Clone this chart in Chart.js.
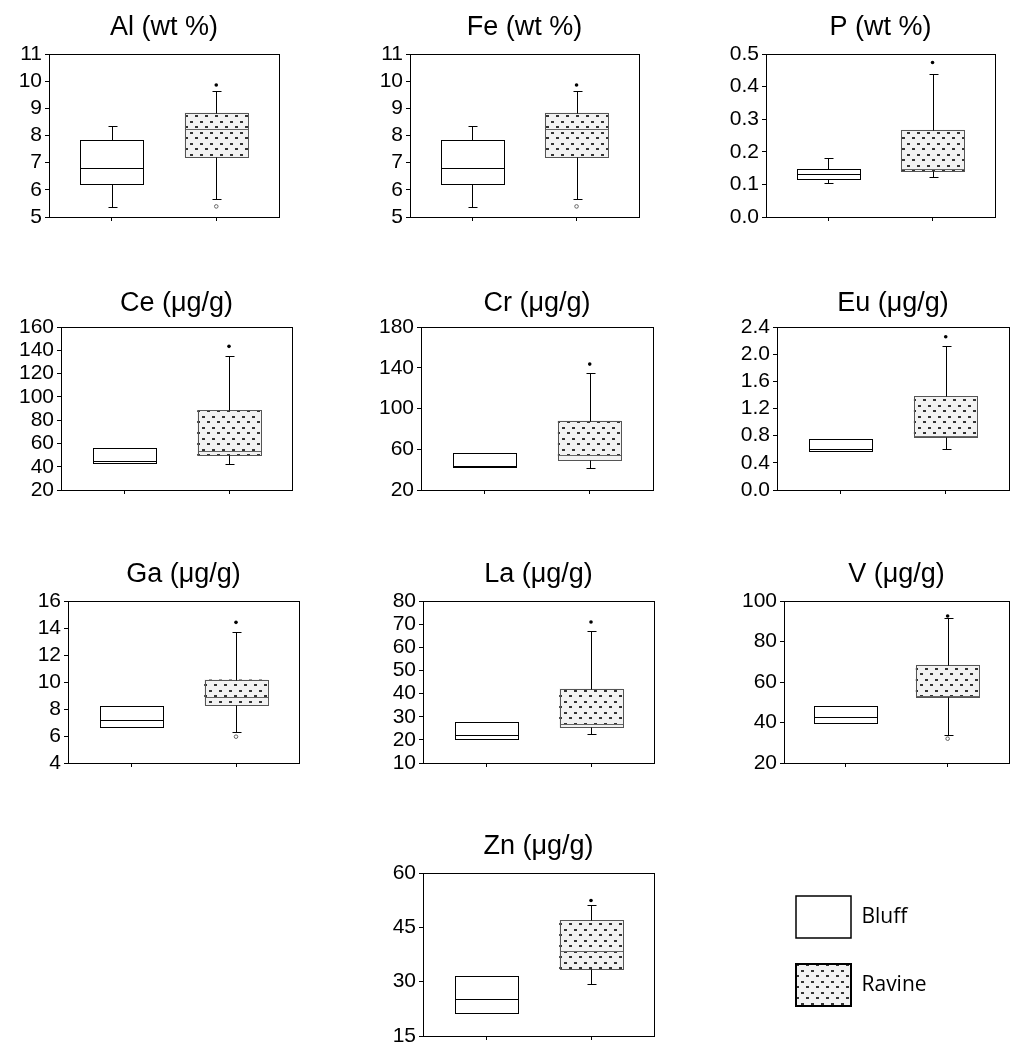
<!DOCTYPE html>
<html>
<head>
<meta charset="utf-8">
<script src="https://cdn.jsdelivr.net/npm/chart.js@4.4.1/dist/chart.umd.min.js"></script>
<style>
  html, body { margin: 0; padding: 0; background: #fff; }
  #page { position: relative; width: 1018px; height: 1051px; overflow: hidden; }
  .panel { position: absolute; }
</style>
</head>
<body>
<div id="page"></div>
<script>
// Element panels, Bluff vs Ravine
const titles = ['Al (wt %)', 'Fe (wt %)', 'P (wt %)', 'Ce (μg/g)', 'Cr (μg/g)', 'Eu (μg/g)', 'Ga (μg/g)', 'La (μg/g)', 'V (μg/g)', 'Zn (μg/g)'];
const groups = ['Bluff', 'Ravine'];

// Bluff box stats
const bluffMin    = [5.36, 5.36, 0.104, 43.0, 43.0, 0.58, 6.69, 20.5, 39.9, 21.4];
const bluffQ1     = [6.23, 6.23, 0.117, 43.0, 43.0, 0.58, 6.69, 20.5, 39.9, 21.4];
const bluffMedian = [6.79, 6.79, 0.132, 44.7, 43.8, 0.61, 7.21, 22.2, 42.9, 25.1];
const bluffQ3     = [7.82, 7.82, 0.146, 55.9, 56.1, 0.757, 8.25, 27.7, 48.3, 31.5];
const bluffMax    = [8.36, 8.36, 0.180, 55.9, 56.1, 0.757, 8.25, 27.7, 48.3, 31.5];

// Ravine box stats
const ravineMin    = [5.66, 5.66, 0.123, 42.1, 42.0, 0.60, 6.32, 22.5, 34.0, 29.3];
const ravineQ1     = [7.20, 7.20, 0.142, 49.8, 49.2, 0.78, 8.30, 25.4, 52.8, 33.4];
const ravineMedian = [8.25, 8.25, 0.148, 53.3, 54.1, 0.79, 8.89, 27.0, 53.0, 38.4];
const ravineQ3     = [8.83, 8.83, 0.267, 88.3, 88.2, 1.377, 10.17, 42.0, 68.4, 46.9];
const ravineMax    = [9.65, 9.65, 0.438, 135.0, 134.4, 2.115, 13.73, 66.9, 91.8, 51.1];
const ravineHigh   = [9.86, 9.86, 0.474, 143.4, 143.6, 2.257, 14.42, 70.9, 92.6, 52.4];
const ravineLow    = [5.39, 5.39, null, null, null, null, 5.95, null, 32.0, null];

// y axes
const yMin = [5, 5, 0, 20, 20, 0, 4, 10, 20, 15];
const yMax = [11, 11, 0.5, 160, 180, 2.4, 16, 80, 100, 60];
const yTicks = [
  [5, 6, 7, 8, 9, 10, 11],
  [5, 6, 7, 8, 9, 10, 11],
  [0, 0.1, 0.2, 0.3, 0.4, 0.5],
  [20, 40, 60, 80, 100, 120, 140, 160],
  [20, 60, 100, 140, 180],
  [0, 0.4, 0.8, 1.2, 1.6, 2.0, 2.4],
  [4, 6, 8, 10, 12, 14, 16],
  [10, 20, 30, 40, 50, 60, 70, 80],
  [20, 40, 60, 80, 100],
  [15, 30, 45, 60]
];
const yDecimals = [0, 0, 1, 0, 0, 1, 0, 0, 0, 0];

// plot area of each panel on the page: left, top, right, bottom
const plotBoxes = [
  [49, 54, 282, 217], [410, 54, 642, 217], [766, 54, 997, 217],
  [61, 327, 294, 490], [421, 327, 655, 490], [777, 327, 1011, 490],
  [68, 601, 302, 763], [423, 601, 656, 763], [784, 601, 1012, 763],
  [423, 873, 656, 1036]
];
const titleTopPad = [3, 3, 3, 6, 6, 6, 3, 3, 3, 3];
const AX = 60, TT = 44, XH = 18, TITLE_LH = 30;

Chart.defaults.font.family = "'Liberation Sans', Arial, sans-serif";
Chart.defaults.color = '#000';

function dotPattern() {
  const c = document.createElement('canvas');
  c.width = 10; c.height = 11;
  const g = c.getContext('2d');
  g.fillStyle = '#f2f2f2';
  g.fillRect(0, 0, 10, 11);
  g.fillStyle = '#333';
  g.fillRect(1, 1, 3, 2);
  g.fillRect(6, 6, 3, 2);
  return g.createPattern(c, 'repeat');
}
const ravineFill = dotPattern();

function line(ctx, x1, y1, x2, y2) {
  ctx.beginPath();
  ctx.moveTo(x1, y1);
  ctx.lineTo(x2, y2);
  ctx.stroke();
}

// whiskers, medians, box outlines and frame
function boxPlugin(i) {
  const stats = [
    { min: bluffMin[i], q1: bluffQ1[i], med: bluffMedian[i], q3: bluffQ3[i], max: bluffMax[i], edge: '#000', medColor: '#000' },
    { min: ravineMin[i], q1: ravineQ1[i], med: ravineMedian[i], q3: ravineQ3[i], max: ravineMax[i], edge: '#555', medColor: '#666' }
  ];
  return {
    id: 'boxPlot' + i,
    afterDatasetsDraw(chart) {
      const { ctx, chartArea: a, scales: { y } } = chart;
      const bars = chart.getDatasetMeta(0).data;
      const py = v => Math.round(y.getPixelForValue(v)) + 0.5;
      ctx.save();
      ctx.lineWidth = 1;
      stats.forEach((s, k) => {
        const bar = bars[k];
        const cx = Math.round(bar.x) + 0.5;
        const l = Math.round(bar.x - bar.width / 2) + 0.5;
        const r = Math.round(bar.x + bar.width / 2) + 0.5;
        ctx.strokeStyle = s.medColor;
        line(ctx, l, py(s.med), r, py(s.med));
        ctx.strokeStyle = s.edge;
        ctx.strokeRect(l, py(s.q3), r - l, py(s.q1) - py(s.q3));
        ctx.strokeStyle = '#000';
        if (s.max > s.q3) {
          line(ctx, cx, py(s.q3), cx, py(s.max));
          line(ctx, cx - 4, py(s.max), cx + 5, py(s.max));
        }
        if (s.min < s.q1) {
          line(ctx, cx, py(s.q1), cx, py(s.min));
          line(ctx, cx - 4, py(s.min), cx + 5, py(s.min));
        }
      });
      ctx.strokeStyle = '#000';
      ctx.strokeRect(Math.round(a.left) + 0.5, Math.round(a.top) + 0.5,
        Math.round(a.right - a.left), Math.round(a.bottom - a.top));
      ctx.restore();
    }
  };
}

const page = document.getElementById('page');

plotBoxes.forEach((b, i) => {
  const [L, T, R, B] = b;
  const div = document.createElement('div');
  div.className = 'panel';
  div.style.left = (L - AX) + 'px';
  div.style.top = (T - TT) + 'px';
  div.style.width = (AX + R - L + 2) + 'px';
  div.style.height = (TT + B - T + XH) + 'px';
  const canvas = document.createElement('canvas');
  div.appendChild(canvas);
  page.appendChild(div);

  const datasets = [
    {
      type: 'bar',
      label: 'box',
      data: [{ x: 1, y: [bluffQ1[i], bluffQ3[i]] }, { x: 2, y: [ravineQ1[i], ravineQ3[i]] }],
      backgroundColor: ['#ffffff', ravineFill],
      borderWidth: 0,
      barThickness: 63
    },
    {
      type: 'scatter',
      label: 'high',
      data: [{ x: 2, y: ravineHigh[i] }],
      pointRadius: 1.8,
      backgroundColor: '#000',
      borderWidth: 0
    }
  ];
  if (ravineLow[i] !== null) {
    datasets.push({
      type: 'scatter',
      label: 'low',
      data: [{ x: 2, y: ravineLow[i] }],
      pointRadius: 1.8,
      backgroundColor: '#fff',
      borderColor: '#666',
      borderWidth: 1
    });
  }

  new Chart(canvas, {
    type: 'bar',
    data: { datasets },
    options: {
      responsive: true,
      maintainAspectRatio: false,
      animation: false,
      devicePixelRatio: 1,
      layout: { padding: { top: 0, left: 0, right: 2, bottom: 0 } },
      plugins: {
        legend: { display: false },
        tooltip: { enabled: false },
        title: {
          display: true,
          text: titles[i],
          fullSize: false,
          color: '#000',
          font: { size: 27, weight: 'normal', lineHeight: TITLE_LH + 'px' },
          padding: { top: titleTopPad[i], bottom: TT - TITLE_LH - titleTopPad[i] }
        }
      },
      scales: {
        x: {
          type: 'linear',
          min: 0.4,
          max: 2.6,
          offset: false,
          border: { display: false },
          grid: { display: true, offset: false, drawOnChartArea: false, drawTicks: true, tickLength: 4, color: '#000' },
          ticks: { display: false },
          afterBuildTicks: s => { s.ticks = [{ value: 1 }, { value: 2 }]; },
          afterFit: s => { s.height = XH; }
        },
        y: {
          type: 'linear',
          min: yMin[i],
          max: yMax[i],
          border: { display: false },
          grid: { display: true, drawOnChartArea: false, drawTicks: true, tickLength: 4, color: '#000' },
          ticks: {
            color: '#000',
            padding: 3,
            autoSkip: false,
            font: { size: 21 },
            callback: v => Number(v).toFixed(yDecimals[i])
          },
          afterBuildTicks: s => { s.ticks = yTicks[i].map(v => ({ value: v })); },
          afterFit: s => { s.width = AX; }
        }
      }
    },
    plugins: [boxPlugin(i)]
  });
});

// legend
const legendDiv = document.createElement('div');
legendDiv.className = 'panel';
legendDiv.style.left = '770px';
legendDiv.style.top = '870px';
legendDiv.style.width = '440px';
legendDiv.style.height = '175px';
const legendCanvas = document.createElement('canvas');
legendDiv.appendChild(legendCanvas);
page.appendChild(legendDiv);

const legendFills = ['#ffffff', ravineFill];
new Chart(legendCanvas, {
  type: 'bar',
  data: { datasets: [] },
  options: {
    responsive: true,
    maintainAspectRatio: false,
    animation: false,
    devicePixelRatio: 1,
    scales: { x: { display: false }, y: { display: false } },
    plugins: {
      tooltip: { enabled: false },
      legend: {
        display: true,
        position: 'left',
        align: 'start',
        labels: {
          boxWidth: 55,
          boxHeight: 42,
          padding: 26,
          color: '#000',
          font: { family: "'Open Sans', sans-serif", size: 21 },
          generateLabels: () => groups.map((g, k) => ({
            text: g,
            fillStyle: legendFills[k],
            strokeStyle: '#000',
            lineWidth: k === 0 ? 1.5 : 2,
            hidden: false,
            datasetIndex: k
          }))
        }
      }
    }
  }
});
</script>
</body>
</html>
